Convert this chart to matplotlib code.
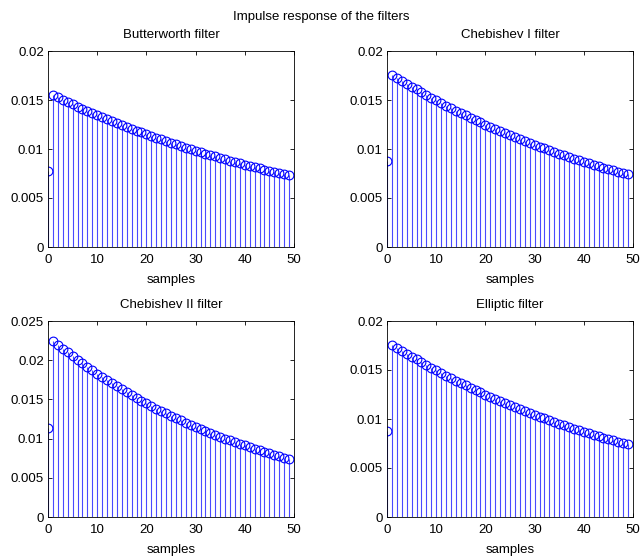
import matplotlib
matplotlib.use("Agg")
import matplotlib.pyplot as plt

plt.rcParams['font.family'] = ['Liberation Sans', 'DejaVu Sans']

samples = list(range(50))

butter = [0.0078, 0.01550, 0.01526, 0.01502, 0.01479, 0.01456, 0.01433, 0.01411, 0.01389,
          0.01367, 0.01346, 0.01325, 0.01304, 0.01284, 0.01264, 0.01244, 0.01225, 0.01206,
          0.01187, 0.01169, 0.01151, 0.01133, 0.01115, 0.01098, 0.01081, 0.01064, 0.01047,
          0.01031, 0.01015, 0.00999, 0.00984, 0.00968, 0.00953, 0.00938, 0.00924, 0.00909,
          0.00895, 0.00881, 0.00868, 0.00854, 0.00841, 0.00828, 0.00815, 0.00802, 0.00790,
          0.00777, 0.00765, 0.00753, 0.00742, 0.00730]

cheby1 = [0.0088, 0.01760, 0.01729, 0.01698, 0.01667, 0.01637, 0.01608, 0.01579, 0.01551,
          0.01523, 0.01496, 0.01469, 0.01443, 0.01417, 0.01392, 0.01367, 0.01343, 0.01319,
          0.01295, 0.01272, 0.01249, 0.01227, 0.01205, 0.01183, 0.01162, 0.01141, 0.01121,
          0.01101, 0.01081, 0.01062, 0.01043, 0.01024, 0.01006, 0.00988, 0.00970, 0.00953,
          0.00936, 0.00919, 0.00903, 0.00886, 0.00871, 0.00855, 0.00840, 0.00825, 0.00810,
          0.00795, 0.00781, 0.00767, 0.00753, 0.00740]

cheby2 = [0.0113, 0.02250, 0.02198, 0.02148, 0.02099, 0.02051, 0.02004, 0.01958, 0.01913,
          0.01869, 0.01827, 0.01785, 0.01744, 0.01704, 0.01665, 0.01627, 0.01590, 0.01553,
          0.01518, 0.01483, 0.01449, 0.01416, 0.01383, 0.01352, 0.01321, 0.01290, 0.01261,
          0.01232, 0.01204, 0.01176, 0.01149, 0.01123, 0.01097, 0.01072, 0.01048, 0.01024,
          0.01000, 0.00977, 0.00955, 0.00933, 0.00912, 0.00891, 0.00870, 0.00850, 0.00831,
          0.00812, 0.00793, 0.00775, 0.00757, 0.00740]

ellip = [0.0088, 0.01760, 0.01729, 0.01698, 0.01667, 0.01637, 0.01608, 0.01579, 0.01551,
         0.01523, 0.01496, 0.01469, 0.01443, 0.01417, 0.01392, 0.01367, 0.01343, 0.01319,
         0.01295, 0.01272, 0.01249, 0.01227, 0.01205, 0.01183, 0.01162, 0.01141, 0.01121,
         0.01101, 0.01081, 0.01062, 0.01043, 0.01024, 0.01006, 0.00988, 0.00970, 0.00953,
         0.00936, 0.00919, 0.00903, 0.00886, 0.00871, 0.00855, 0.00840, 0.00825, 0.00810,
         0.00795, 0.00781, 0.00767, 0.00753, 0.00740]

titles = ['Butterworth filter', 'Chebishev I filter', 'Chebishev II filter', 'Elliptic filter']
series = [butter, cheby1, cheby2, ellip]
ytops = [0.02, 0.02, 0.025, 0.02]
yticks = [[0, 0.005, 0.01, 0.015, 0.02],
          [0, 0.005, 0.01, 0.015, 0.02],
          [0, 0.005, 0.01, 0.015, 0.02, 0.025],
          [0, 0.005, 0.01, 0.015, 0.02]]

fig = plt.figure(figsize=(6.42, 5.56), dpi=100)
fig.patch.set_facecolor('white')

W, H = 642, 556
# axes boxes in pixels: left, top, right, bottom
boxes = [(48, 51, 294, 247), (387, 51, 633, 247),
         (48, 321, 294, 517), (387, 321, 633, 517)]

fs = 9.5
for i in range(4):
    l, t, r, b = boxes[i]
    ax = fig.add_axes([l / W, 1 - b / H, (r - l) / W, (b - t) / H])
    ml, sl, bl = ax.stem(samples, series[i], basefmt=' ')
    plt.setp(sl, color='#4a4aff', linewidth=0.8)
    plt.setp(ml, color='blue', markerfacecolor='none', markersize=6.3, markeredgewidth=0.8)
    ax.set_xlim(0, 50)
    ax.set_ylim(0, ytops[i])
    ax.set_xticks([0, 10, 20, 30, 40, 50])
    ax.set_yticks(yticks[i])
    ax.set_yticklabels(['0' if v == 0 else ('%g' % v) for v in yticks[i]])
    ax.tick_params(direction='in', top=True, right=True, labelsize=fs, length=3, width=0.6, pad=3)
    ax.tick_params(axis='x', pad=5)
    for s in ax.spines.values():
        s.set_linewidth(0.6)
    ax.set_title(titles[i], fontsize=fs, pad=9.5)
    ax.set_xlabel('samples', fontsize=fs, labelpad=6)

fig.text(0.5, 1 - 17 / H, 'Impulse response of the filters', ha='center', va='center', fontsize=fs)

fig.savefig('out.png', dpi=100, facecolor='white')
